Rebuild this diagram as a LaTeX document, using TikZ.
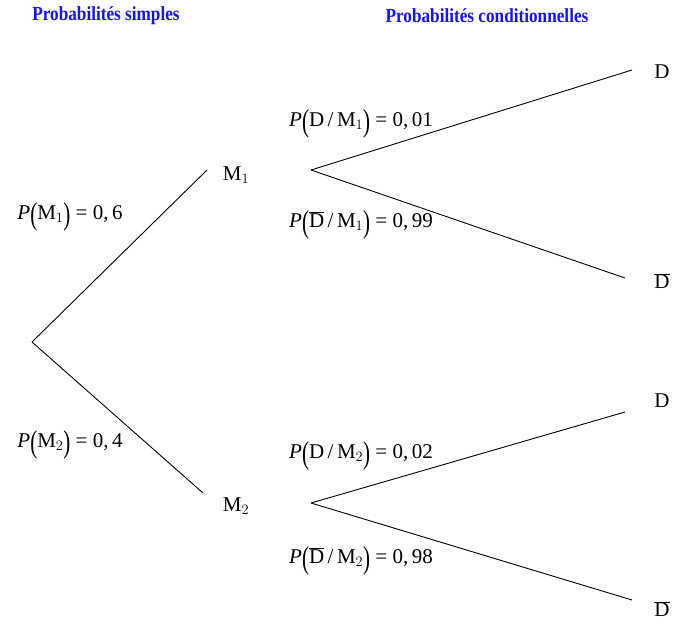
\documentclass[tikz,border=0pt]{standalone}
\usepackage{fontspec}
\setmainfont{Liberation Serif}
\definecolor{titleblue}{RGB}{20,20,240}
\newcommand{\Dbar}{\overline{\hbox{D}}}
\newcommand{\narrowtxt}[1]{\scalebox{0.86}[1]{#1}}
\newcommand{\lpar}{\raisebox{-0.24em}{\scalebox{1}[1.5]{(}}}
\newcommand{\rpar}{\raisebox{-0.24em}{\scalebox{1}[1.5]{)}}}
\begin{document}
\begin{tikzpicture}[x=1pt, y=-1pt, font=\fontsize{21}{23}\selectfont]
    \tikzset{
        heading/.style={font=\fontsize{20}{22}\selectfont\bfseries, text=titleblue},
        branch/.style={line width=0.9pt},
        leaf/.style={inner sep=1pt},
        prob/.style={inner sep=1pt}
    }
    \useasboundingbox (0, 0) rectangle (680, 622);

    % Headings
    \node[heading] (hsimple) at (106, 16) {\narrowtxt{Probabilités simples}};
    \node[heading] (hcond) at (487, 16) {\narrowtxt{Probabilités conditionnelles}};

    % First level
    \coordinate (root) at (32, 342);
    \coordinate (m1in) at (207, 170);
    \coordinate (m2in) at (203, 493);
    \node[leaf] (m1) at (236, 175) {M$_1$};
    \node[leaf] (m2) at (236, 506) {M$_2$};
    \draw[branch] (root) -- (m1in);
    \draw[branch] (root) -- (m2in);
    \node[prob] (pm1) at (70, 217) {\textit{P}\lpar M$_1$\rpar{} = 0,\,6};
    \node[prob] (pm2) at (70, 445) {\textit{P}\lpar M$_2$\rpar{} = 0,\,4};

    % Second level, after M1
    \begin{scope}
        \coordinate (m1out) at (311, 170);
        \coordinate (d1in) at (632, 70);
        \coordinate (nd1in) at (625, 278);
        \node[leaf] (d1) at (662, 72) {D};
        \node[leaf] (nd1) at (662, 281) {$\Dbar$};
        \draw[branch] (m1out) -- (d1in);
        \draw[branch] (m1out) -- (nd1in);
        \node[prob] (pd1) at (361, 124) {\textit{P}\lpar D\,/\,M$_1$\rpar{} = 0,\,01};
        \node[prob] (pnd1) at (361, 225) {\textit{P}\lpar$\Dbar$\,/\,M$_1$\rpar{} = 0,\,99};
    \end{scope}

    % Second level, after M2
    \begin{scope}
        \coordinate (m2out) at (311, 503);
        \coordinate (d2in) at (625, 412);
        \coordinate (nd2in) at (632, 600);
        \node[leaf] (d2) at (662, 401) {D};
        \node[leaf] (nd2) at (662, 609) {$\Dbar$};
        \draw[branch] (m2out) -- (d2in);
        \draw[branch] (m2out) -- (nd2in);
        \node[prob] (pd2) at (361, 456) {\textit{P}\lpar D\,/\,M$_2$\rpar{} = 0,\,02};
        \node[prob] (pnd2) at (361, 561) {\textit{P}\lpar$\Dbar$\,/\,M$_2$\rpar{} = 0,\,98};
    \end{scope}
\end{tikzpicture}
\end{document}
